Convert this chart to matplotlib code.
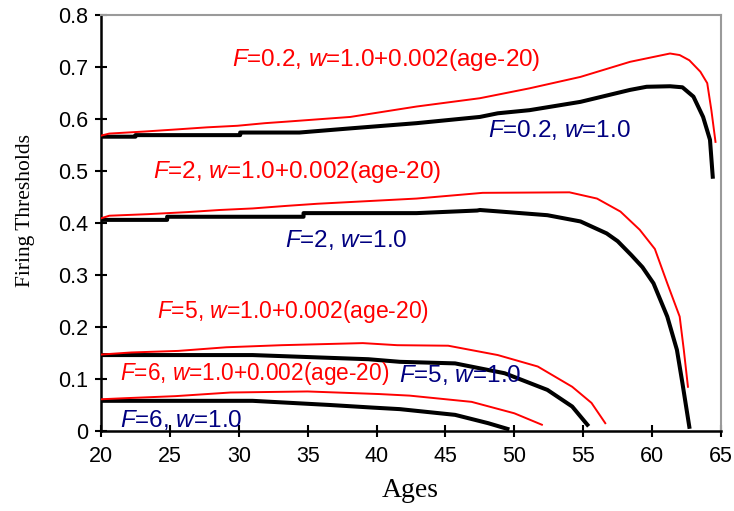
import numpy as np
import matplotlib.pyplot as plt

# values
age_b02 = [20, 22.5, 22.5, 30.1, 30.1, 34.4, 38.1, 42.9, 47.5, 48.8, 51.1, 54.8, 58.4, 59.6, 61.3, 62.2, 63.0, 63.7, 64.2, 64.4]
thr_b02 = [0.566, 0.566, 0.569, 0.569, 0.574, 0.574, 0.582, 0.592, 0.604, 0.611, 0.617, 0.633, 0.656, 0.662, 0.663, 0.661, 0.643, 0.604, 0.56, 0.489]
age_r02 = [20, 20.6, 23.2, 25.5, 27.7, 29.9, 31.9, 33.5, 38.1, 42.9, 47.5, 51.1, 54.8, 58.4, 61.3, 62.0, 62.7, 63.5, 64.0, 64.3, 64.6]
thr_r02 = [0.568, 0.572, 0.576, 0.580, 0.584, 0.587, 0.592, 0.595, 0.604, 0.624, 0.640, 0.659, 0.681, 0.710, 0.726, 0.723, 0.713, 0.691, 0.669, 0.617, 0.556]

age_b2 = [20, 24.8, 24.8, 34.7, 34.7, 42.9, 47.3, 47.5, 49.0, 52.4, 54.8, 56.7, 57.5, 58.5, 59.3, 60.1, 61.1, 61.8, 62.2, 62.7]
thr_b2 = [0.406, 0.406, 0.412, 0.412, 0.419, 0.419, 0.424, 0.425, 0.422, 0.415, 0.403, 0.38, 0.365, 0.338, 0.315, 0.284, 0.22, 0.156, 0.092, 0.008]
age_r2 = [20, 20.6, 23.4, 26.3, 28.6, 31.0, 33.5, 35.7, 42.9, 47.7, 54.0, 56.0, 57.7, 59.1, 60.2, 61.1, 62.0, 62.3, 62.6]
thr_r2 = [0.409, 0.414, 0.417, 0.421, 0.425, 0.428, 0.433, 0.437, 0.447, 0.458, 0.459, 0.447, 0.422, 0.387, 0.350, 0.284, 0.22, 0.156, 0.085]

age_b5 = [20, 31.0, 33.1, 39.4, 41.7, 45.7, 49.3, 52.4, 54.2, 55.3]
thr_b5 = [0.146, 0.146, 0.144, 0.138, 0.133, 0.13, 0.111, 0.079, 0.047, 0.012]
age_r5 = [20, 22.2, 25.6, 29.1, 33.1, 39.0, 41.5, 45.2, 48.8, 51.7, 54.2, 55.6, 56.6]
thr_r5 = [0.147, 0.151, 0.154, 0.161, 0.165, 0.169, 0.165, 0.164, 0.146, 0.124, 0.085, 0.054, 0.015]

age_b6 = [20, 31.0, 36.6, 39.7, 41.7, 45.7, 48.1, 49.5]
thr_b6 = [0.058, 0.058, 0.05, 0.045, 0.042, 0.031, 0.015, 0.004]
age_r6 = [20, 21.7, 25.4, 29.4, 35.0, 40.2, 42.4, 46.9, 50.0, 52.0]
thr_r6 = [0.061, 0.063, 0.067, 0.074, 0.076, 0.071, 0.068, 0.056, 0.034, 0.012]

plt.rcParams['font.family'] = 'Liberation Sans'
plt.rcParams['mathtext.fontset'] = 'custom'
plt.rcParams['mathtext.it'] = 'Liberation Sans:italic'
plt.rcParams['mathtext.rm'] = 'Liberation Sans'

fig = plt.figure(figsize=(7.34, 5.11), dpi=100)
ax = fig.add_axes([0.1376, 0.1566, 0.8447, 0.814])

RED = '#ff0000'
NAVY = '#000080'

for a, t in [(age_r02, thr_r02), (age_r2, thr_r2), (age_r5, thr_r5), (age_r6, thr_r6)]:
	ax.plot(a, t, color=RED, lw=1.4, zorder=3)
for a, t in [(age_b02, thr_b02), (age_b2, thr_b2), (age_b5, thr_b5), (age_b6, thr_b6)]:
	ax.plot(a, t, color='black', lw=2.9, zorder=2)

fs = 17.5
ax.text(29.5, 0.713, r'$F$=0.2, $w$=1.0+0.002(age-20)', color=RED, fontsize=fs, va='center')
ax.text(48.1, 0.579, r'$F$=0.2, $w$=1.0', color=NAVY, fontsize=fs, va='center')
ax.text(23.8, 0.498, r'$F$=2, $w$=1.0+0.002(age-20)', color=RED, fontsize=fs, va='center')
ax.text(33.35, 0.367, r'$F$=2, $w$=1.0', color=NAVY, fontsize=fs, va='center')
ax.text(24.1, 0.229, r'$F$=5, $w$=1.0+0.002(age-20)', color=RED, fontsize=16.5, va='center')
ax.text(21.4, 0.11, r'$F$=6, $w$=1.0+0.002(age-20)', color=RED, fontsize=16.3, va='center')
ax.text(41.6, 0.108, r'$F$=5, $w$=1.0', color=NAVY, fontsize=fs, va='center')
ax.text(21.4, 0.021, r'$F$=6, $w$=1.0', color=NAVY, fontsize=fs, va='center')

ax.set_xlim(20, 65)
ax.set_ylim(0, 0.8)
ax.set_xticks(np.arange(20, 66, 5))
ax.set_yticks(np.arange(0, 0.81, 0.1))
ax.set_yticklabels(['0'] + ['%.1f' % v for v in np.arange(0.1, 0.81, 0.1)])
ax.tick_params(direction='inout', length=9, width=1.5, labelsize=15.5, pad=5)
ax.tick_params(axis='x', pad=6)

for s in ['left', 'bottom']:
	ax.spines[s].set_linewidth(1.8)
	ax.spines[s].set_color('black')
for s in ['top', 'right']:
	ax.spines[s].set_linewidth(1.5)
	ax.spines[s].set_color('#9a9a9a')

ax.set_xlabel('Ages', family='Liberation Serif', fontsize=20)
ax.set_ylabel('Firing Thresholds', family='Liberation Serif', fontsize=15.5)
ax.xaxis.set_label_coords(0.498, -0.113)
ax.yaxis.set_label_coords(-0.106, 0.529)

fig.savefig('out.png', dpi=100)
